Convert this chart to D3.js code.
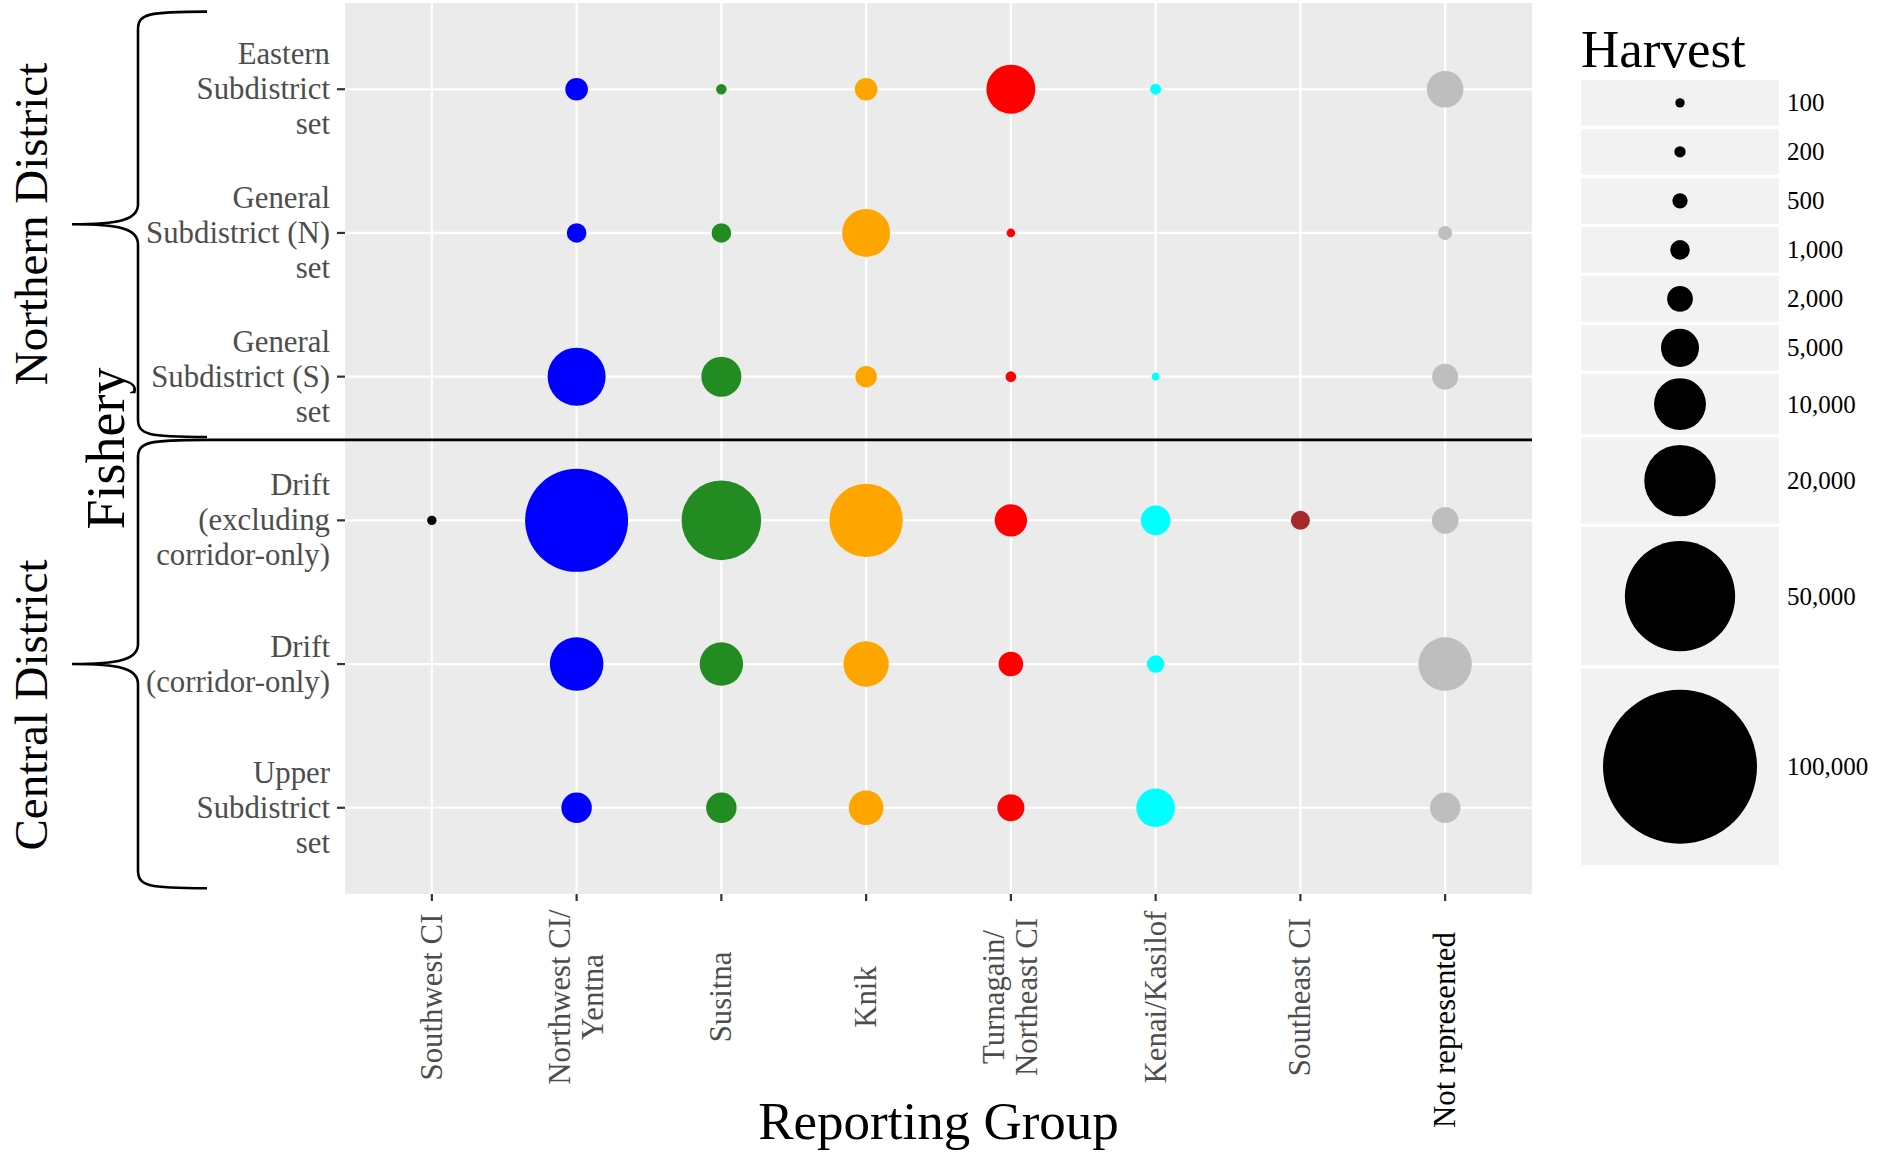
<!DOCTYPE html>
<html>
<head>
<meta charset="utf-8">
<script src="https://cdn.jsdelivr.net/npm/d3@7"></script>
<style>
  body { margin: 0; background: #fff; }
  svg text { font-family: "Liberation Serif", "Times New Roman", serif; }
</style>
</head>
<body>
<div id="chart"></div>
<script>
// reporting groups (x axis) and their colours
const groups = ["Southwest CI", "Northwest CI/\nYentna", "Susitna", "Knik",
  "Turnagain/\nNortheast CI", "Kenai/Kasilof", "Southeast CI", "Not represented"];
const groupColors = ["#000000", "#0000ff", "#228b22", "#ffa500",
  "#ff0000", "#00ffff", "#a52a2a", "#bebebe"];

// fisheries (y axis), top to bottom
const fisheries = ["Eastern\nSubdistrict\nset", "General\nSubdistrict (N)\nset",
  "General\nSubdistrict (S)\nset", "Drift\n(excluding\ncorridor-only)",
  "Drift\n(corridor-only)", "Upper\nSubdistrict\nset"];
const districts = ["Northern District", "Central District"];
const fisheryDistrict = [0, 0, 0, 1, 1, 1];

// harvest by fishery, one value per reporting group (null = none)
const harvestEastern   = [null, 1440, 150, 1440, 8800, 180, null, 4570];
const harvestGeneralN  = [null, 1000, 1000, 8400, 70, null, null, 390];
const harvestGeneralS  = [null, 12750, 5600, 1250, 160, 40, null, 2040];
const harvestDriftExcl = [100, 43350, 25160, 21170, 3450, 2790, 920, 2160];
const harvestDriftCorr = [null, 10730, 6720, 7430, 1780, 725, null, 10650];
const harvestUpper     = [null, 2970, 2970, 4020, 2240, 5160, null, 2970];
const harvest = [harvestEastern, harvestGeneralN, harvestGeneralS,
  harvestDriftExcl, harvestDriftCorr, harvestUpper];

// legend breaks
const sizeBreaks = [100, 200, 500, 1000, 2000, 5000, 10000, 20000, 50000, 100000];

const W = 1889, H = 1152;
const panel = { left: 345, top: 3, right: 1532, bottom: 894 };
const fmt = d3.format(",");

const svg = d3.select("#chart")
  .append("svg")
    .attr("width", W)
    .attr("height", H);

const x = d3.scalePoint()
  .domain(groups)
  .range([panel.left, panel.right])
  .padding(0.6);

const y = d3.scalePoint()
  .domain(fisheries)
  .range([panel.top, panel.bottom])
  .padding(0.6);

const r = d3.scaleSqrt()
  .domain([100, 100000])
  .range([4.7, 77]);

// panel background + grid
svg.append("rect")
  .attr("x", panel.left)
  .attr("y", panel.top)
  .attr("width", panel.right - panel.left)
  .attr("height", panel.bottom - panel.top)
  .attr("fill", "#ebebeb");

svg.append("g")
  .selectAll("line")
  .data(groups)
  .join("line")
    .attr("x1", d => x(d)).attr("x2", d => x(d))
    .attr("y1", panel.top).attr("y2", panel.bottom)
    .attr("stroke", "#fff").attr("stroke-width", 2.2);

svg.append("g")
  .selectAll("line")
  .data(fisheries)
  .join("line")
    .attr("y1", d => y(d)).attr("y2", d => y(d))
    .attr("x1", panel.left).attr("x2", panel.right)
    .attr("stroke", "#fff").attr("stroke-width", 2.2);

// points
const points = [];
fisheries.forEach((f, i) => {
  harvest[i].forEach((v, j) => {
    if (v != null) points.push({ fishery: f, group: groups[j], color: groupColors[j], value: v });
  });
});

svg.append("g")
  .selectAll("circle")
  .data(points)
  .join("circle")
    .attr("cx", d => x(d.group))
    .attr("cy", d => y(d.fishery))
    .attr("r", d => r(d.value))
    .attr("fill", d => d.color);

// y axis ticks + labels
const yAxis = svg.append("g");
fisheries.forEach(f => {
  const yy = y(f);
  yAxis.append("line")
    .attr("x1", panel.left - 8).attr("x2", panel.left)
    .attr("y1", yy).attr("y2", yy)
    .attr("stroke", "#333").attr("stroke-width", 2.2);
  const lines = f.split("\n");
  const t = yAxis.append("text")
    .attr("text-anchor", "end")
    .attr("font-size", 30.8)
    .attr("fill", "#4d4d4d");
  lines.forEach((ln, k) => {
    t.append("tspan")
      .attr("x", panel.left - 15)
      .attr("y", yy + (k - (lines.length - 1) / 2) * 35)
      .attr("dominant-baseline", "central")
      .text(ln);
  });
});

// x axis ticks + rotated labels
const xAxis = svg.append("g");
groups.forEach(g => {
  const xx = x(g);
  xAxis.append("line")
    .attr("x1", xx).attr("x2", xx)
    .attr("y1", panel.bottom).attr("y2", panel.bottom + 7)
    .attr("stroke", "#333").attr("stroke-width", 2.2);
  const lines = g.split("\n");
  const odd = g === "Not represented";
  const t = xAxis.append("text")
    .attr("transform", `translate(${xx},${odd ? 1030 : 997}) rotate(-90)`)
    .attr("text-anchor", "middle")
    .attr("font-size", 30.8)
    .attr("fill", odd ? "#000" : "#4d4d4d");
  lines.forEach((ln, k) => {
    t.append("tspan")
      .attr("x", 0)
      .attr("y", (k - (lines.length - 1) / 2) * 33)
      .attr("dominant-baseline", "central")
      .text(ln);
  });
});

// axis titles
svg.append("text")
  .attr("x", (panel.left + panel.right) / 2)
  .attr("y", 1139)
  .attr("text-anchor", "middle")
  .attr("font-size", 53)
  .text("Reporting Group");

svg.append("text")
  .attr("transform", `translate(124,${(panel.top + panel.bottom) / 2}) rotate(-90)`)
  .attr("text-anchor", "middle")
  .attr("font-size", 54)
  .text("Fishery");

// district braces
const step = y.step();
const first = i => fisheries[fisheryDistrict.indexOf(i)];
const last = i => fisheries[fisheryDistrict.lastIndexOf(i)];
const braceSpans = [
  { top: y(first(0)) - 0.54 * step, bottom: y(last(0)) + 0.42 * step },
  { top: y(first(1)) - 0.56 * step, bottom: y(last(1)) + 0.56 * step }
];
const endX = 207, spineX = 138, tipX = 72;

function bracePath(t, b) {
  const m = (t + b) / 2;
  return `M${endX},${t} C${spineX + 10},${t} ${spineX},${t + 2} ${spineX},${t + 18}` +
    ` L${spineX},${m - 20} C${spineX},${m - 4} ${spineX - 20},${m} ${tipX},${m}` +
    ` C${spineX - 20},${m} ${spineX},${m + 4} ${spineX},${m + 20}` +
    ` L${spineX},${b - 18} C${spineX},${b - 2} ${spineX + 10},${b} ${endX},${b}`;
}

svg.append("g")
  .selectAll("path")
  .data(braceSpans)
  .join("path")
    .attr("d", d => bracePath(d.top, d.bottom))
    .attr("fill", "none")
    .attr("stroke", "#000")
    .attr("stroke-width", 2.6);

// separator between districts
const sepY = y(last(0)) + 0.44 * step;
svg.append("line")
  .attr("x1", endX).attr("x2", panel.right)
  .attr("y1", sepY).attr("y2", sepY)
  .attr("stroke", "#000").attr("stroke-width", 2.6);

const districtCenters = [224, 705];
districts.forEach((d, i) => {
  svg.append("text")
    .attr("transform", `translate(47,${districtCenters[i]}) rotate(-90)`)
    .attr("text-anchor", "middle")
    .attr("font-size", 47)
    .text(d);
});

// legend
const legend = svg.append("g").attr("transform", "translate(1581,0)");
legend.append("text")
  .attr("x", 0).attr("y", 67)
  .attr("font-size", 53)
  .text("Harvest");

let ky = 80;
sizeBreaks.forEach(b => {
  const rad = r(b);
  const kh = Math.max(45.7, 2.67 * rad - 9.1);
  legend.append("rect")
    .attr("x", 0).attr("y", ky)
    .attr("width", 198).attr("height", kh)
    .attr("fill", "#f2f2f2");
  legend.append("circle")
    .attr("cx", 99).attr("cy", ky + kh / 2)
    .attr("r", rad)
    .attr("fill", "#000");
  legend.append("text")
    .attr("x", 206).attr("y", ky + kh / 2)
    .attr("dominant-baseline", "central")
    .attr("font-size", 25)
    .text(fmt(b));
  ky += kh + 3.3;
});
</script>
</body>
</html>
